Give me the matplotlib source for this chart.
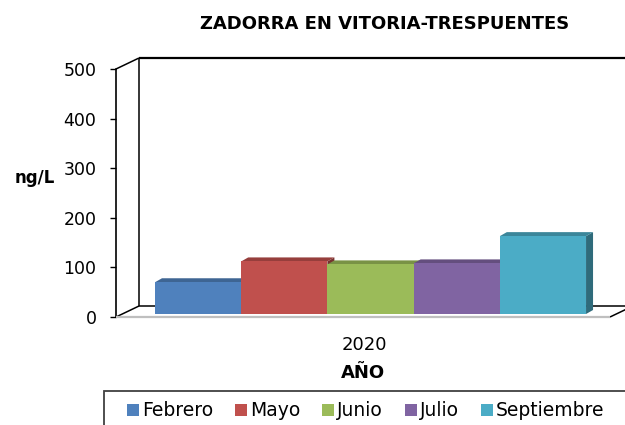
import matplotlib
matplotlib.use("Agg")
import matplotlib.pyplot as plt
import matplotlib.colors as mcolors
import numpy as np
from matplotlib.patches import Polygon, Rectangle
from matplotlib.lines import Line2D
from matplotlib.transforms import ScaledTranslation, IdentityTransform

months = ["Febrero", "Mayo", "Junio", "Julio", "Septiembre"]
values = [64, 106, 100, 102, 157]
colors = ["#4F81BD", "#C0504D", "#9BBB59", "#8064A2", "#4BACC6"]
year = "2020"
yticks = [0, 100, 200, 300, 400, 500]

plt.rcParams['font.family'] = 'DejaVu Sans'

W, H = 625, 425
fig = plt.figure(figsize=(W / 100, H / 100), dpi=100)
ax = fig.add_axes([116 / W, 108 / H, 494 / W, 248 / H])
ax.set_xlim(-0.879, 4.851)
ax.set_ylim(0, 500)
ax.set_autoscale_on(False)
ax.patch.set_visible(False)

# pseudo 3d offsets in pixels (x right, y up)
D = np.array([23.0, 11.0])     # wall depth
F = np.array([6.3, 3.0])       # bars sit a little behind the front edge
B = np.array([7.0, 4.0])       # depth of the bars


def shade(c, k):
    r, g, b = mcolors.to_rgb(c)
    return (r * k, g * k, b * k)


def pix(x, y):
    return ax.transData.transform((x, y))


def line(p, q, color="black", lw=1.1, z=1):
    fig.add_artist(Line2D([p[0], q[0]], [p[1], q[1]], transform=IdentityTransform(),
                          color=color, lw=lw, zorder=z, solid_capstyle="butt"))


x0, x1 = ax.get_xlim()
top = yticks[-1]
line(pix(x0, 0), pix(x0, 0) + D)
line(pix(x0, top), pix(x0, top) + D)
line(pix(x0, 0) + D, pix(x0, top) + D)
line(pix(x0, top) + D, pix(x1, top) + D, lw=1.6)
line(pix(x0, 0) + D, pix(x1, 0) + D)
line(pix(x1, 0), pix(x1, 0) + D)
line(pix(x1, 0) + D, pix(x1, top) + D)
line(pix(x0, 0), pix(x1, 0), color="#BFBFBF", lw=1.6)

# bars: side + top faces, then front face, left to right
off = ScaledTranslation(F[0] / 100, F[1] / 100, fig.dpi_scale_trans)
bars = []
for i, (v, c, m) in enumerate(zip(values, colors, months)):
    a = pix(i - 0.5, v) + F
    b = pix(i + 0.5, v) + F
    b0 = pix(i + 0.5, 0) + F
    side = Polygon([b0, b, b + B, b0 + B], closed=True, transform=IdentityTransform(),
                   facecolor=shade(c, 0.62), edgecolor="none")
    topf = Polygon([a, b, b + B, a + B], closed=True, transform=IdentityTransform(),
                   facecolor=shade(c, 0.78), edgecolor="none")
    fig.add_artist(side)
    fig.add_artist(topf)
    bar = ax.bar(i, v, width=1.0, color=c, transform=ax.transData + off, label=m)
    bar.patches[0].set_zorder(5)
    bar.patches[0].remove()
    fig.add_artist(bar.patches[0])
    bars.append(bar.patches[0])

for s in ["top", "right", "bottom"]:
    ax.spines[s].set_visible(False)
ax.spines["left"].set_color("black")
ax.spines["left"].set_linewidth(1.2)

ax.set_yticks(yticks)
ax.tick_params(axis="y", direction="out", length=4, width=1, pad=10, labelsize=12.5)
ax.set_xticks([2])
ax.set_xticklabels([year])
ax.tick_params(axis="x", length=0, pad=14, labelsize=13)

ax.set_xlabel("AÑO", fontsize=13, fontweight="bold", labelpad=7)
ax.set_ylabel("ng/L", rotation=0, fontsize=12, fontweight="bold", ha="right", va="baseline")
ax.yaxis.set_label_coords(-0.1235, 0.539)

fig.text(385 / W, 1 - 29.3 / H, "ZADORRA EN VITORIA-TRESPUENTES", ha="center",
         va="baseline", fontsize=13, fontweight="bold")

fig.legend(bars, months, loc="center left", bbox_to_anchor=(127 / W, 1 - 411 / H),
           ncol=5, frameon=False, fontsize=13.5, handlelength=0.64, handleheight=0.6,
           handletextpad=0.16, columnspacing=1.17, borderpad=0, borderaxespad=0)
fig.add_artist(Rectangle((104 / W, -0.1), 1.0, (1 - 391 / H) + 0.1, transform=fig.transFigure,
                         fill=False, edgecolor="#404040", lw=1.3))

fig.savefig("out.png", dpi=100)
